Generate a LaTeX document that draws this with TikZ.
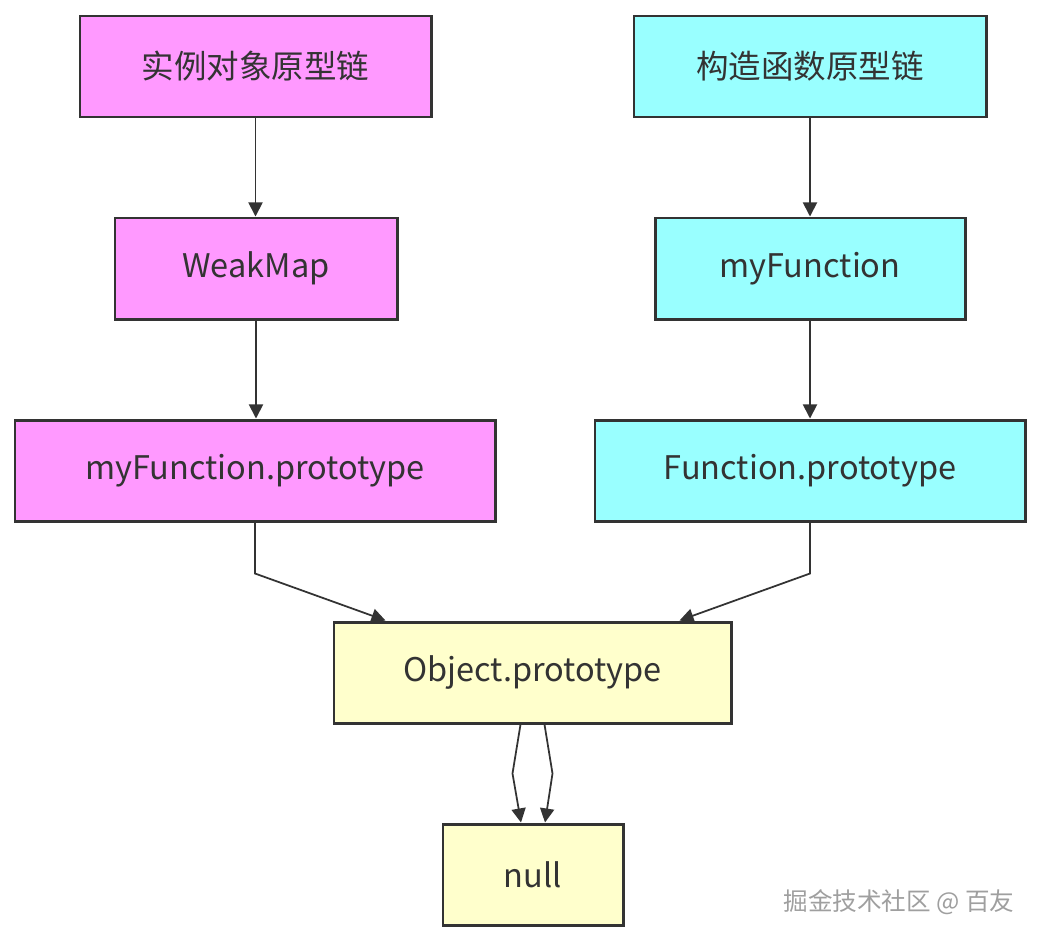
\documentclass[tikz,border=0pt]{standalone}
\usepackage{xcolor}
\usepackage{fontspec}
\setmainfont{Noto Sans CJK SC}
\usepackage{tikz}
\usetikzlibrary{arrows.meta}
\usetikzlibrary{calc}

\definecolor{pinkbox}{HTML}{FF99FF}
\definecolor{cyanbox}{HTML}{99FFFF}
\definecolor{yellowbox}{HTML}{FFFFCC}
\definecolor{edgegray}{HTML}{333333}

\begin{document}
\begin{tikzpicture}[x=0.2mm, y=-0.2mm,
  box/.style={draw=edgegray, line width=1.7pt, minimum height=20.2mm, inner sep=0pt,
    text=edgegray, font=\fontsize{18.5}{20}\selectfont},
  flow/.style={draw=edgegray, line width=1pt, -{Triangle[length=8pt,width=8pt]}}]
\useasboundingbox (0,0) rectangle (1042,942);
% left column
\node[box, fill=pinkbox, minimum width=70.2mm] (inst) at (255.5,66.5) {实例对象原型链};
\node[box, fill=pinkbox, minimum width=56.4mm] (weak) at (256,268.5) {WeakMap};
\node[box, fill=pinkbox, minimum width=96mm] (mfp) at (255,470.5) {myFunction.prototype};
% right column
\node[box, fill=cyanbox, minimum width=70.4mm] (cons) at (810,66.5) {构造函数原型链};
\node[box, fill=cyanbox, minimum width=62mm] (myf) at (810,268.5) {myFunction};
\node[box, fill=cyanbox, minimum width=86mm] (fp) at (810,470.5) {Function.prototype};
% bottom
\node[box, fill=yellowbox, minimum width=79.4mm] (obj) at (532.5,672.5) {Object.prototype};
\node[box, fill=yellowbox, minimum width=36mm] (nul) at (533,874.5) {null};
\node[text=gray!75, font=\fontsize{14}{16}\selectfont] (mark) at (899,902) {掘金技术社区 @ 百友};

\draw[flow] (inst.south) -- (inst.south |- weak.north);
\draw[flow] (weak.south) -- (weak.south |- mfp.north);
\draw[flow] (cons.south) -- (cons.south |- myf.north);
\draw[flow] (myf.south) -- (myf.south |- fp.north);
\draw[flow] (mfp.south) -- ++(0,51) -- ($(obj.north)+(-147,0)$);
\draw[flow] (fp.south) -- ++(0,51) -- ($(obj.north)+(147,0)$);
\draw[flow] ($(obj.south)+(-12,0)$) -- ++(-8,49) -- ($(nul.north)+(-12,0)$);
\draw[flow] ($(obj.south)+(12,0)$) -- ++(8,49) -- ($(nul.north)+(12,0)$);
\end{tikzpicture}
\end{document}
